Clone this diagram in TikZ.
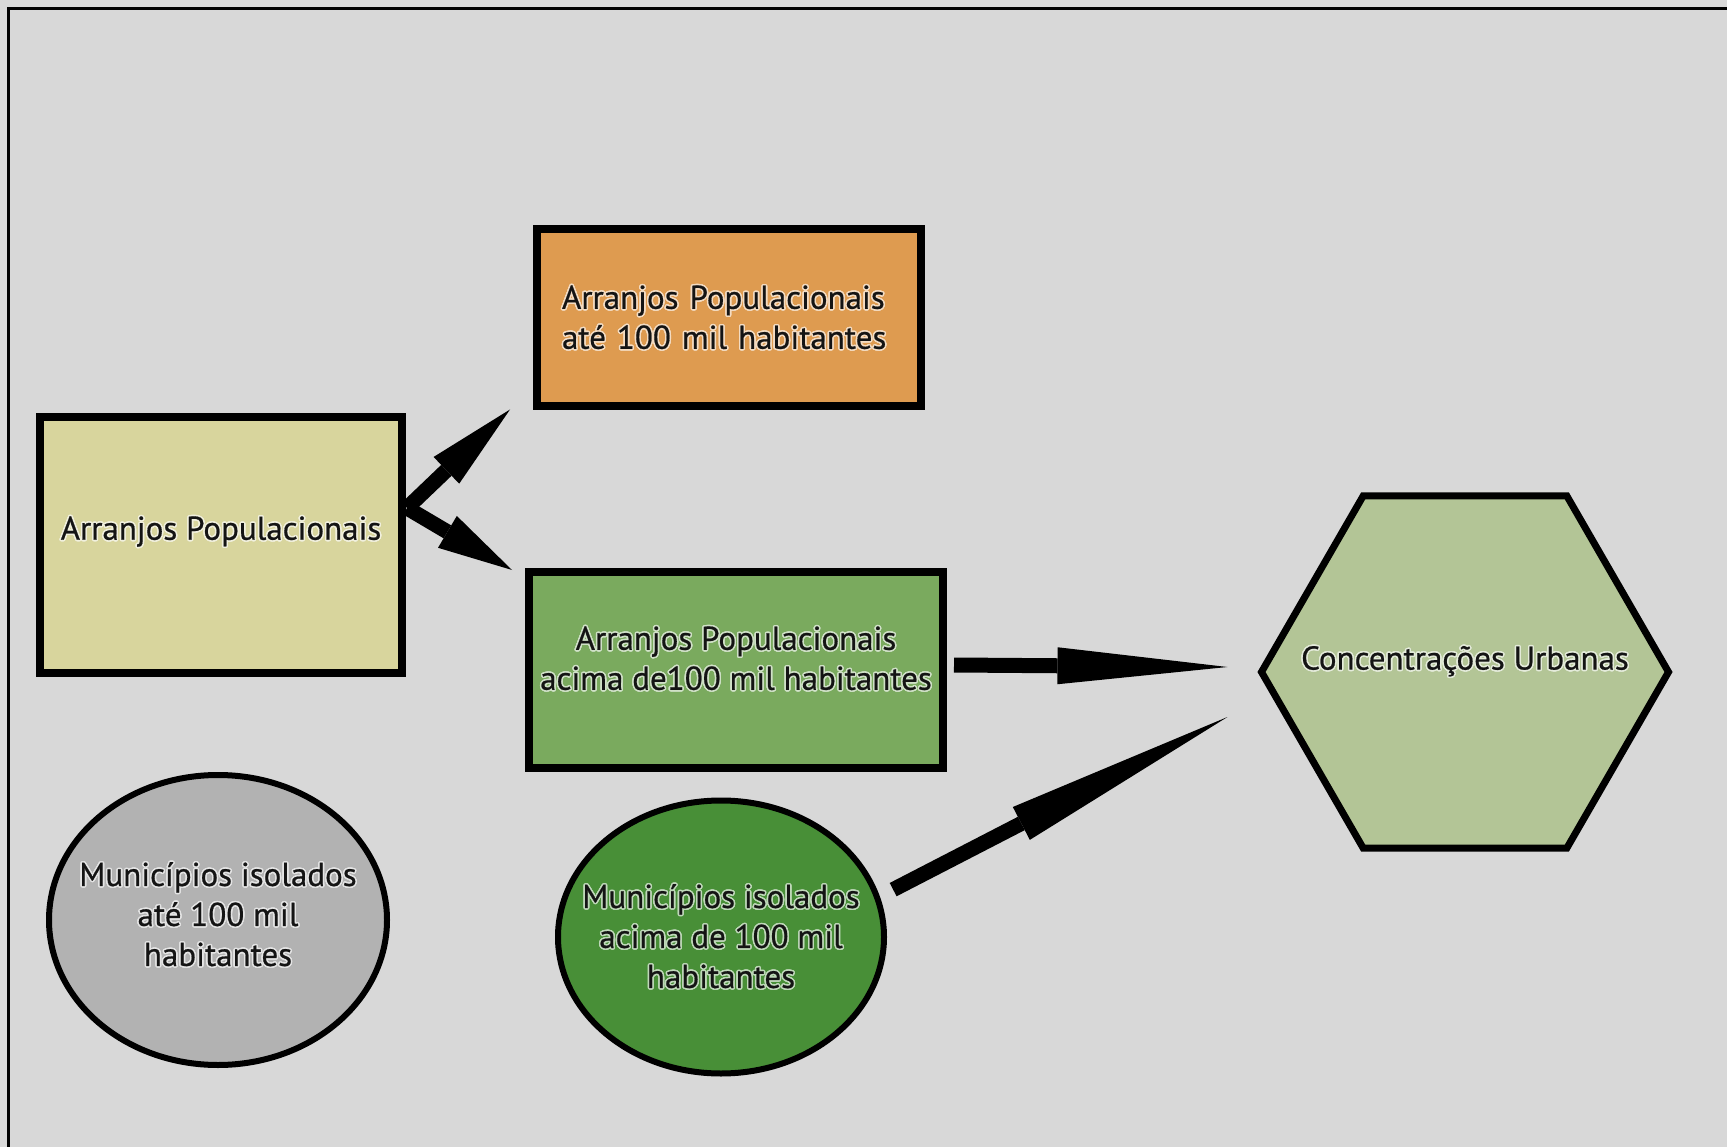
\documentclass[tikz,border=0pt]{standalone}
\usepackage{fontspec}
\setmainfont[FakeBold=0.6]{PT Sans}
\usepackage{contour}
\usetikzlibrary{calc,shapes.geometric,arrows.meta}

\definecolor{fundo}{RGB}{216,216,216}
\definecolor{arrAP}{RGB}{216,213,157}
\definecolor{arrAte}{RGB}{222,155,80}
\definecolor{arrAcima}{RGB}{122,170,94}
\definecolor{concUrb}{RGB}{179,197,150}
\definecolor{munAte}{RGB}{178,178,178}
\definecolor{munAcima}{RGB}{72,143,55}

\contourlength{1.5pt}
\newcommand{\brilho}[1]{\contour{corhalo}{#1}}

\tikzset{
  halo/.style={execute at begin node={\colorlet{corhalo}{#1!35!white}}},
  caixa/.style={draw=black, line width=8pt, fill=#1, halo=#1},
  bola/.style={ellipse, draw=black, line width=6pt, fill=#1},
  seta/.style={line width=15pt,
    -{Triangle[length=#1, width=37pt, line width=0pt]}}
}

\begin{document}
\begin{tikzpicture}[x=1pt, y=-1pt, inner sep=0pt,
    every node/.style={font=\fontsize{33}{40}\selectfont, text=black!92}]
    % fundo
    \useasboundingbox (0,0) rectangle (1727,1147);
    \fill[fundo] (0,0) rectangle (1727,1147);
    \draw[line width=3pt] (8,1147) -- (8,9) -- (1727,9);

    % arranjos populacionais
    \node[caixa=arrAP, minimum width=362pt, minimum height=255pt] (arranjos)
    at (221,545) {\raisebox{34pt}{\brilho{Arranjos Populacionais}}};

    % ate 100 mil
    \node[caixa=arrAte, minimum width=384pt, minimum height=177pt,
      text width=334pt, align=left] (arr_ate)
    at (729,318)
    {\brilho{Arranjos Populacionais}\\ \brilho{até 100 mil habitantes}};

    % acima de 100 mil
    \node[caixa=arrAcima, minimum width=414pt, minimum height=196pt,
      label={[halo=arrAcima, align=center, yshift=11pt]center:{\brilho{Arranjos Populacionais}\\ \brilho{acima de100 mil habitantes}}}] (arr_acima)
    at (736,670) {};

    % concentracoes urbanas
    \node[caixa=concUrb, line width=7pt, regular polygon, regular polygon sides=6,
      minimum size=407pt,
      label={[halo=concUrb, yshift=10pt]center:{\brilho{Concentrações Urbanas}}}] (concent)
    at (1465,672) {};

    % municipios isolados
    \node[bola=munAte, minimum width=338pt, minimum height=290pt,
      label={[halo=munAte, align=center, yshift=5pt]center:{\brilho{Municípios isolados}\\ \brilho{até 100 mil}\\ \brilho{habitantes}}}] (mun_ate)
    at (218,920) {};

    \node[bola=munAcima, minimum width=326pt, minimum height=273pt,
      label={[halo=munAcima, align=center]center:{\brilho{Municípios isolados}\\ \brilho{acima de 100 mil}\\ \brilho{habitantes}}}] (mun_acima)
    at (721,937) {};

    % setas
    \draw[seta=88pt] ($(arranjos.east)+(1,-37)$) -- ($(arr_ate.south west)+(-23,-1)$);
    \draw[seta=75pt] ($(arranjos.east)+(1,-37)$) -- ($(arr_acima.north west)+(-13,2)$);
    \draw[seta=170pt] ($(arr_acima.east)+(7,-5)$) -- ($(concent.west)+(-30,-5)$);
    \draw[seta=232pt] ($(mun_acima.15)+(14,-5)$) -- ($(concent.west)+(-30,45)$);
\end{tikzpicture}
\end{document}
